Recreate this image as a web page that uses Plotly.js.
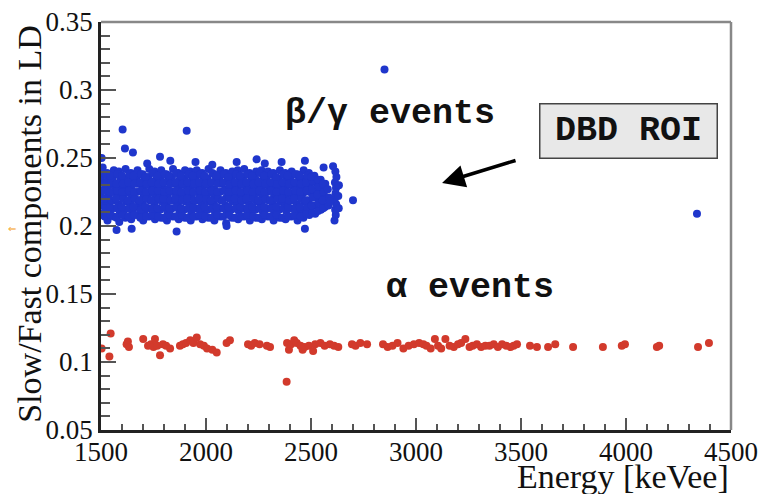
<!DOCTYPE html>
<html>
<head>
<meta charset="utf-8">
<script src="https://cdn.plot.ly/plotly-3.0.1.min.js"></script>
<style>
html,body{margin:0;padding:0;background:#fff;}
#chart{width:760px;height:494px;}
.modebar-container{display:none !important;}
#chart .xtick text, #chart .ytick text{font-family:"Liberation Serif","Times New Roman",serif !important;font-size:27px !important;}
</style>
</head>
<body>
<div id="chart"></div>
<script>
// beta/gamma band (blue) — energy [keVee] and slow/fast ratio
const blueEnergy = [
 1503,1507,1502,1509,1505,1504,1508,
 1531,1534,1528,1536,1530,1533,1529,
 1560,1556,1563,1558,1562,1557,1561,
 1587,1590,1584,1589,1586,1591,1585,
 1616,1612,1619,1614,1618,1613,1617,
 1644,1648,1641,1646,1643,1647,1642,
 1673,1669,1676,1671,1675,1670,1674,
 1701,1705,1698,1703,1700,1704,1699,
 1729,1726,1732,1728,1731,1725,1730,
 1757,1760,1754,1759,1756,1761,1755,
 1786,1782,1789,1784,1788,1783,1787,
 1814,1817,1811,1816,1813,1818,1812,
 1842,1839,1845,1841,1844,1838,1843,
 1870,1873,1867,1872,1869,1874,1868,
 1899,1895,1902,1897,1901,1896,1900,
 1927,1930,1924,1929,1926,1931,1925,
 1955,1952,1958,1954,1957,1951,1956,
 1983,1986,1980,1985,1982,1987,1981,
 2011,2008,2014,2010,2013,2007,2012,
 2040,2043,2037,2042,2039,2044,2038,
 2068,2065,2071,2067,2070,2064,2069,
 2096,2099,2093,2098,2095,2100,2094,
 2124,2121,2127,2123,2126,2120,2125,
 2153,2156,2150,2155,2152,2157,2151,
 2181,2178,2184,2180,2183,2177,2182,
 2209,2212,2206,2211,2208,2213,2207,
 2238,2235,2241,2237,2240,2234,2239,
 2266,2269,2263,2268,2265,2270,2264,
 2294,2291,2297,2293,2296,2290,2295,
 2322,2325,2319,2324,2321,2326,2320,
 2351,2348,2354,2350,2353,2347,2352,
 2379,2382,2376,2381,2378,2383,2377,
 2407,2404,2410,2406,2409,2403,2408,
 2436,2439,2433,2438,2435,2440,2434,
 2464,2461,2467,2463,2466,2460,2465,
 2492,2495,2489,2494,2491,2496,2490,
 2520,2517,2523,2519,2522,2516,
 2547,2550,2544,2549,2546,
 2566,2570,2563,2568,
 2612,2618,2615,2620,2613,2617,2619,2614,2621,2616,
 2632,2630,2633,
 1517,1520,1514,1519,1516,1521,
 1546,1543,1549,1545,1548,1544,
 1574,1577,1571,1576,1573,1578,
 1602,1599,1605,1601,1604,1600,
 1631,1634,1628,1633,1630,1635,
 1658,1655,1661,1657,1660,1654,
 1687,1690,1684,1689,1686,1691,
 1715,1712,1718,1714,1717,1711,
 1743,1746,1740,1745,1742,1747,
 1772,1769,1775,1771,1774,1768,
 1800,1803,1797,1802,1799,1804,
 1828,1825,1831,1827,1830,1824,
 1856,1859,1853,1858,1855,1860,
 1885,1882,1888,1884,1887,1881,
 1913,1916,1910,1915,1912,1917,
 1941,1938,1944,1940,1943,1937,
 1969,1972,1966,1971,1968,1973,
 1997,1994,2000,1996,1999,1993,
 2026,2029,2023,2028,2025,2030,
 2054,2051,2057,2053,2056,2050,
 2082,2085,2079,2084,2081,2086,
 2110,2107,2113,2109,2112,2106,
 2139,2142,2136,2141,2138,2143,
 2167,2164,2170,2166,2169,2163,
 2195,2198,2192,2197,2194,2199,
 2224,2221,2227,2223,2226,2220,
 2252,2255,2249,2254,2251,2256,
 2280,2277,2283,2279,2282,2276,
 2308,2311,2305,2310,2307,2312,
 2337,2334,2340,2336,2339,2333,
 2365,2368,2362,2367,2364,2369,
 2393,2390,2396,2392,2395,2389,
 2422,2425,2419,2424,2421,2426,
 2450,2447,2453,2449,2452,2446,
 2478,2481,2475,2480,2477,2482,
 2506,2503,2509,2505,2508,2502,
 2534,2537,2531,2536,2533,
 2558,2555,2561,2557,
 2583,2586,2580,2590,
 1603,1908,1614,1652,1781,1503,2146,2241,2360,2471,2605,2700,
 1574,1646,1860,2098,2471,1720,1950,2030,2280,1830,2560,
 2850,4338
];
const blueRatio = [
 .209,.215,.221,.226,.232,.237,.243,
 .204,.211,.217,.223,.229,.234,.239,
 .207,.213,.219,.225,.230,.236,.241,
 .203,.210,.216,.222,.228,.233,.240,
 .206,.212,.218,.224,.229,.235,.242,
 .205,.211,.217,.223,.228,.234,.239,
 .208,.214,.219,.225,.231,.236,.241,
 .204,.210,.216,.222,.228,.233,.238,
 .207,.213,.219,.224,.230,.236,.242,
 .205,.211,.217,.223,.229,.234,.240,
 .206,.212,.218,.224,.230,.235,.241,
 .204,.210,.216,.222,.227,.233,.238,
 .207,.213,.219,.225,.231,.236,.242,
 .205,.211,.217,.223,.228,.234,.239,
 .206,.212,.218,.224,.230,.235,.241,
 .204,.210,.216,.222,.228,.233,.240,
 .207,.213,.219,.225,.230,.236,.241,
 .205,.211,.217,.223,.229,.234,.239,
 .206,.212,.218,.224,.230,.235,.242,
 .204,.210,.216,.222,.227,.233,.238,
 .207,.213,.219,.225,.231,.236,.241,
 .202,.209,.215,.221,.227,.233,.239,
 .206,.212,.218,.224,.229,.235,.240,
 .205,.211,.217,.223,.229,.234,.241,
 .207,.213,.219,.224,.230,.236,.242,
 .204,.210,.216,.222,.228,.233,.239,
 .206,.212,.218,.224,.229,.235,.240,
 .205,.211,.217,.223,.229,.234,.241,
 .207,.213,.219,.225,.230,.236,.240,
 .204,.210,.216,.222,.228,.233,.239,
 .206,.212,.218,.224,.229,.235,.241,
 .205,.211,.217,.223,.228,.234,.239,
 .207,.213,.219,.224,.230,.236,.240,
 .204,.210,.216,.222,.228,.233,.238,
 .206,.212,.218,.224,.229,.235,.241,
 .208,.213,.219,.225,.230,.236,.239,
 .209,.215,.221,.226,.232,.237,
 .212,.217,.223,.228,.234,
 .214,.220,.226,.231,
 .204,.208,.212,.216,.220,.224,.228,.232,.236,.240,
 .213,.222,.230,
 .207,.213,.220,.226,.231,.238,
 .208,.214,.219,.225,.232,.237,
 .206,.213,.220,.226,.231,.238,
 .208,.214,.220,.225,.231,.237,
 .207,.213,.219,.226,.232,.238,
 .208,.214,.220,.225,.231,.237,
 .206,.212,.219,.226,.232,.238,
 .207,.214,.220,.225,.231,.236,
 .208,.213,.219,.226,.232,.239,
 .207,.213,.220,.226,.231,.237,
 .206,.214,.220,.225,.232,.238,
 .208,.213,.219,.226,.231,.237,
 .207,.214,.220,.226,.232,.239,
 .208,.213,.219,.225,.231,.237,
 .206,.213,.220,.226,.232,.238,
 .207,.214,.219,.225,.231,.237,
 .208,.213,.220,.226,.232,.238,
 .207,.214,.220,.225,.231,.237,
 .206,.213,.219,.226,.232,.239,
 .208,.214,.220,.225,.231,.237,
 .207,.213,.219,.226,.232,.238,
 .208,.214,.220,.225,.231,.236,
 .206,.213,.220,.226,.232,.238,
 .207,.214,.219,.225,.231,.237,
 .208,.213,.220,.226,.232,.238,
 .207,.214,.220,.225,.231,.237,
 .206,.213,.219,.226,.232,.239,
 .208,.214,.220,.225,.231,.237,
 .207,.213,.219,.226,.232,.238,
 .208,.214,.220,.225,.231,.236,
 .206,.213,.220,.226,.232,.238,
 .207,.214,.219,.225,.231,.237,
 .208,.213,.220,.226,.232,.238,
 .207,.214,.220,.225,.231,.237,
 .209,.214,.219,.226,.232,.237,
 .210,.215,.221,.227,.233,.236,
 .211,.217,.223,.229,.234,
 .213,.219,.225,.231,
 .215,.221,.227,.218,
 .271,.270,.257,.254,.251,.250,.247,.249,.247,.248,.244,.219,
 .197,.198,.196,.200,.198,.246,.247,.245,.246,.248,.243,
 .315,.209
];
// alpha band (red)
const redEnergy = [
 1503,1546,1540,1622,1628,1633,1701,1724,1738,1750,1757,1768,1781,1795,1810,1829,
 1876,1890,1905,1925,1940,1956,1972,1990,2005,2030,2051,2098,2114,
 2200,2215,2232,2255,2290,2305,
 2386,2395,2405,2420,2432,2450,2460,2470,2490,2510,2520,2545,2565,2590,2610,2630,
 2695,2712,2735,2767,
 2843,2865,2888,2912,2940,2965,2990,3015,3035,3050,3070,3090,3105,3120,3140,3160,
 3180,3200,3215,3235,3255,3270,3290,3310,3330,3350,3370,3390,3410,3430,3450,3465,3481,
 3543,3576,3629,3663,3748,3890,3980,3995,4147,4158,4343,4395,
 2384
];
const redRatio = [
 .110,.121,.104,.113,.115,.111,.117,.112,.113,.111,.117,.112,.105,.113,.112,.110,
 .112,.113,.114,.116,.114,.118,.113,.112,.110,.109,.107,.114,.116,
 .113,.112,.114,.113,.112,.111,
 .114,.109,.113,.116,.114,.112,.109,.111,.112,.108,.113,.114,.112,.113,.112,.111,
 .113,.112,.114,.113,
 .113,.111,.112,.114,.110,.112,.113,.114,.113,.112,.110,.117,.112,.110,.117,.112,
 .111,.113,.114,.117,.111,.112,.113,.111,.112,.112,.113,.111,.113,.112,.111,.112,.113,
 .112,.111,.111,.113,.111,.111,.112,.113,.111,.112,.111,.114,
 .0855
];
const energyRange = [1500, 4500];
const ratioRange = [0.05, 0.35];

const blueTrace = {
  type: 'scatter', mode: 'markers', x: blueEnergy, y: blueRatio,
  marker: {size: 8, color: '#1f36cc'}, hoverinfo: 'skip', showlegend: false
};
const redTrace = {
  type: 'scatter', mode: 'markers', x: redEnergy, y: redRatio,
  marker: {size: 8, color: '#d23a2c'}, hoverinfo: 'skip', showlegend: false
};
// empty trace that carries the overlay axes used for minor ticks
const minorTrace = {
  type: 'scatter', mode: 'markers', x: [], y: [], xaxis: 'x2', yaxis: 'y2',
  hoverinfo: 'skip', showlegend: false
};

const serif = 'Liberation Serif';
const mono = 'Liberation Mono';

const layout = {
  width: 760, height: 494,
  margin: {l: 101, r: 29, t: 22, b: 64},
  paper_bgcolor: '#fff', plot_bgcolor: '#fff',
  font: {family: serif, size: 27, color: '#111'},
  showlegend: false,
  xaxis: {
    range: energyRange, dtick: 500, tick0: 1500,
    ticks: 'inside', ticklen: 12, tickwidth: 1.5, tickcolor: '#555',
    showgrid: false, zeroline: false,
    showline: true, linecolor: '#222', linewidth: 2.5,
    tickfont: {family: serif, size: 27, color: '#111'},
    ticklabelstandoff: -4
  },
  yaxis: {
    range: ratioRange, dtick: 0.05, tick0: 0.05,
    ticks: 'inside', ticklen: 15, tickwidth: 1.5, tickcolor: '#555',
    showgrid: false, zeroline: false,
    showline: true, linecolor: '#222', linewidth: 2.5,
    tickfont: {family: serif, size: 27, color: '#111'}
  },
  xaxis2: {
    range: energyRange, dtick: 100, tick0: 1500, overlaying: 'x', anchor: 'y2', side: 'bottom',
    ticks: 'inside', ticklen: 6, tickwidth: 1.5, tickcolor: '#555',
    showticklabels: false, showgrid: false, zeroline: false, showline: false
  },
  yaxis2: {
    range: ratioRange, dtick: 0.01, tick0: 0.05, overlaying: 'y', anchor: 'x2', side: 'left',
    ticks: 'inside', ticklen: 9, tickwidth: 1.5, tickcolor: '#555',
    showticklabels: false, showgrid: false, zeroline: false, showline: false
  },
  shapes: [
    {type: 'line', xref: 'paper', yref: 'paper', x0: 0, x1: 1, y0: 1, y1: 1,
     line: {color: '#888', width: 2.5}},
    {type: 'line', xref: 'paper', yref: 'paper', x0: 1, x1: 1, y0: 0, y1: 1,
     line: {color: '#888', width: 2.5}}
  ],
  annotations: [
    {xref: 'paper', yref: 'paper', x: 1, y: -0.113, xanchor: 'right', yanchor: 'middle',
     text: 'Energy [keVee]', showarrow: false, font: {family: serif, size: 34, color: '#111'}},
    {xref: 'paper', yref: 'paper', x: -0.113, y: 0.505, xanchor: 'center', yanchor: 'middle',
     textangle: -90, text: 'Slow/Fast components in LD', showarrow: false,
     font: {family: serif, size: 34, color: '#111'}},
    {xref: 'x', yref: 'y', x: 2876, y: 0.2824, text: '<b>β/γ events</b>', showarrow: false,
     font: {family: mono, size: 35, color: '#111'}},
    {xref: 'x', yref: 'y', x: 3257, y: 0.1544, text: '<b>α events</b>', showarrow: false,
     font: {family: mono, size: 35, color: '#111'}},
    {xref: 'x', yref: 'y', x: 4010, y: 0.2699, text: '<b>DBD ROI</b>', showarrow: false,
     font: {family: mono, size: 35, color: '#111'},
     bgcolor: '#e8e8e8', bordercolor: '#444', borderwidth: 1.5, borderpad: 0,
     width: 176, height: 53},
    {xref: 'x', yref: 'y', x: 3124, y: 0.2316, ax: 75, ay: -23, text: '', showarrow: true,
     arrowhead: 2, arrowsize: 1.3, arrowwidth: 3.5, arrowcolor: '#000'},
    {xref: 'paper', yref: 'paper', x: -0.151, y: 0.495, text: '⇐', showarrow: false,
     font: {family: 'DejaVu Sans', size: 10, color: '#f5a020'}}
  ]
};

Plotly.newPlot('chart', [minorTrace, blueTrace, redTrace], layout);
</script>
</body>
</html>
